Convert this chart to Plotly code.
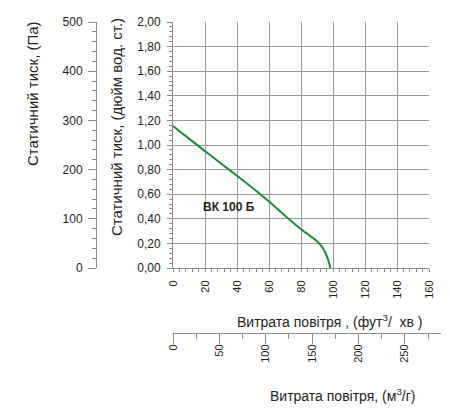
import plotly.graph_objects as go

W, H = 450, 415
OFF = 8  # page body margin shifts the figure by this much

# fan curve, airflow (cfm) vs static pressure (in. w.g.)
flow_cfm = [0, 10, 20, 30, 40, 50, 60, 70, 80, 85, 90, 93, 95, 97, 98.3]
press_inwg = [1.155, 1.052, 0.95, 0.85, 0.75, 0.648, 0.54, 0.425, 0.315, 0.268, 0.218, 0.175, 0.13, 0.066, 0.0]

curve_name = "ВК 100 Б"
title_pa = "Статичний тиск, (Па)"
title_inwg = "Статичний тиск, (дюйм вод. ст.)"
title_cfm = "Витрата повітря , (фут<sup>3</sup>/&nbsp; хв )"
title_m3h = "Витрата повітря, (м<sup>3</sup>/г)"

TXT = "#231f20"
AX = "#8c8c8c"
GRID = "#9a9a9a"
GREEN = "#1a8c3c"
FONT = "Liberation Sans, Arial, sans-serif"


def px(x):
    return (x - OFF) / W


def py(y):
    return 1 - (y - OFF) / H


fig = go.Figure()
fig.add_trace(go.Scatter(
    x=flow_cfm, y=press_inwg, mode="lines", line=dict(color=GREEN, width=2, shape="spline", smoothing=0.6),
    hoverinfo="skip", showlegend=False,
))
# empty trace so the m3/h and Pa axes get drawn
fig.add_trace(go.Scatter(x=[None], y=[None], xaxis="x2", yaxis="y2", showlegend=False, hoverinfo="skip"))

yfont = dict(family=FONT, size=12, color=TXT)
xfont = dict(family=FONT, size=11, color=TXT)

fig.update_layout(
    width=W, height=H,
    margin=dict(l=0, r=0, t=0, b=0, autoexpand=False),
    paper_bgcolor="white", plot_bgcolor="rgba(0,0,0,0)",
    separators=",.",
    font=dict(family=FONT, color=TXT),
    xaxis=dict(
        domain=[px(173), px(429)], range=[0, 160], dtick=20, tick0=0,
        showgrid=True, gridcolor=GRID, gridwidth=1, zeroline=False,
        showline=True, linecolor=AX, linewidth=1,
        ticks="outside", ticklen=3, tickcolor=AX, tickangle=-90,
        minor=dict(dtick=4, ticks="outside", ticklen=3, tickcolor=AX, showgrid=False),
        tickfont=xfont, ticklabelstandoff=4, fixedrange=True, automargin=False,
    ),
    yaxis=dict(
        domain=[py(268), py(22)], range=[0, 2], dtick=0.2, tick0=0, tickformat=".2f",
        showgrid=True, gridcolor=GRID, gridwidth=1, zeroline=False,
        showline=True, linecolor=AX, linewidth=1,
        ticks="outside", ticklen=5, tickcolor=AX,
        minor=dict(dtick=0.04, ticks="outside", ticklen=3, tickcolor=AX, showgrid=False),
        tickfont=yfont, ticklabelstandoff=4, fixedrange=True, automargin=False,
    ),
    yaxis2=dict(
        overlaying="y", anchor="free", position=px(96), side="left",
        range=[0, 500], dtick=100, tick0=0,
        showgrid=False, zeroline=False,
        showline=True, linecolor=AX, linewidth=1,
        ticks="outside", ticklen=8, tickcolor=AX,
        minor=dict(dtick=20, ticks="outside", ticklen=4, tickcolor=AX, showgrid=False),
        tickfont=yfont, ticklabelstandoff=3, fixedrange=True, automargin=False,
    ),
    xaxis2=dict(
        anchor="free", position=py(333), domain=[px(173), px(441)],
        range=[0, 289], dtick=50, tick0=0,
        showgrid=False, zeroline=False,
        showline=True, linecolor=AX, linewidth=1,
        ticks="outside", ticklen=10, tickcolor=AX, tickangle=-90,
        minor=dict(dtick=25, ticks="outside", ticklen=5, tickcolor=AX, showgrid=False),
        tickfont=xfont, ticklabelstandoff=-4, fixedrange=True, automargin=False,
    ),
)


def title_note(x, y, text, angle=0, size=14):
    fig.add_annotation(x=px(x), y=py(y), xref="paper", yref="paper", text=text, textangle=angle,
                       xanchor="center", yanchor="middle", showarrow=False,
                       font=dict(family=FONT, size=size, color=TXT))


title_note(33, 94, title_pa, -90, 15)
title_note(117, 127, title_inwg, -90, 15)
title_note(330, 321, title_cfm)
title_note(343, 395, title_m3h)
fig.add_annotation(x=35, y=0.5, xref="x", yref="y", text="<b>" + curve_name + "</b>",
                   xanchor="center", yanchor="middle",
                   showarrow=False, font=dict(family=FONT, size=12, color=TXT))

fig.write_html("out.html")
